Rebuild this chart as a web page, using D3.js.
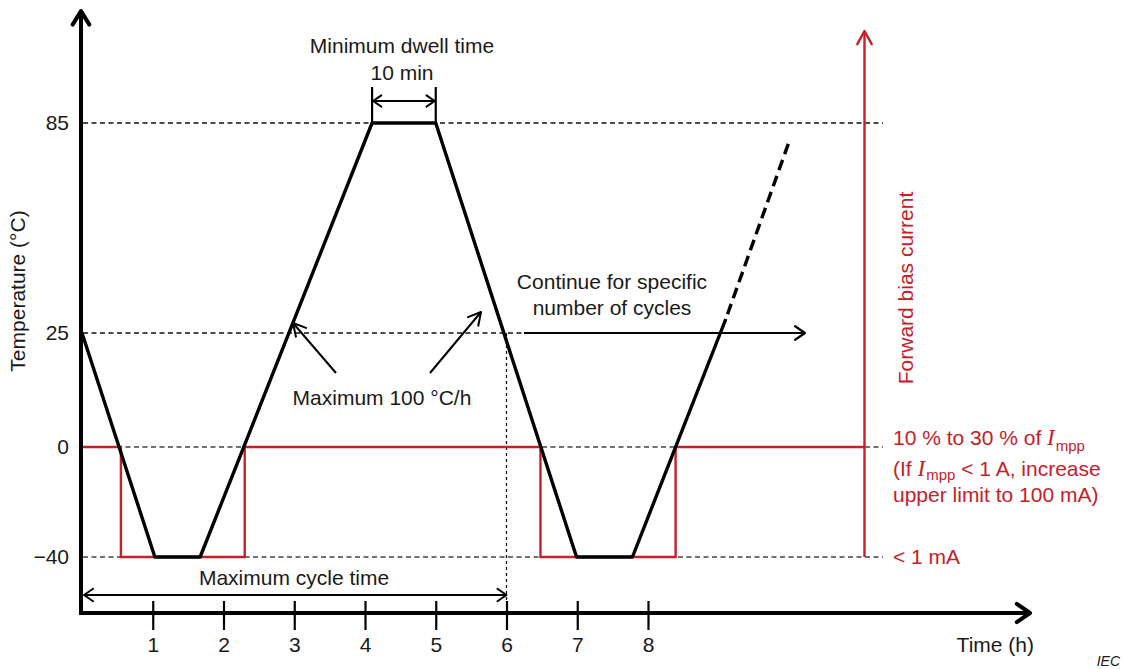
<!DOCTYPE html>
<html><head><meta charset="utf-8">
<script src="https://cdn.jsdelivr.net/npm/d3@7"></script>
<style>
html,body{margin:0;padding:0;background:#fff;}
svg{display:block;font-family:"Liberation Sans",Arial,sans-serif;}
</style></head>
<body>
<svg id="c" width="1126" height="669"></svg>
<script>
// ---- data ----
const tempTimes = [0, 1.03, 1.67, 4.1, 5.0, 6.99, 7.78, 9.1];
const tempValues = [25, -40, -40, 85, 85, -40, -40, 29];
const contTimes = [9.1, 10.0];
const contValues = [29, 80];
const biasTimes = [0, 0.55, 0.55, 2.3, 2.3, 6.48, 6.48, 8.39, 8.39, 11.06];
const biasLevels = [0, 0, -40, -40, 0, 0, -40, -40, 0, 0];
const xTicks = [1, 2, 3, 4, 5, 6, 7, 8];
const yTicks = [-40, 0, 25, 85];
const yTickLabels = ["\u221240", "0", "25", "85"];

const RED = "#c8202a";
const INK = "#1a1a1a";
const FS = 21;
const svg = d3.select("#c");

const x = d3.scaleLinear().domain([0, 8]).range([82, 648]);
const y = d3.scaleLinear().domain([-40, 0, 25, 85]).range([557, 447, 333, 123]);

const X0 = 81, XAXIS_Y = 613;

function chevron(tx, ty, angle, len, spread, color, w) {
  const a1 = angle + Math.PI - spread, a2 = angle + Math.PI + spread;
  svg.append("path")
    .attr("d", `M${tx + len*Math.cos(a1)},${ty + len*Math.sin(a1)}L${tx},${ty}L${tx + len*Math.cos(a2)},${ty + len*Math.sin(a2)}`)
    .attr("fill", "none").attr("stroke", color).attr("stroke-width", w)
    .attr("stroke-linecap", "round").attr("stroke-linejoin", "round");
}
function line(x1, y1, x2, y2, color, w, dash) {
  const l = svg.append("line").attr("x1", x1).attr("y1", y1).attr("x2", x2).attr("y2", y2)
    .attr("stroke", color).attr("stroke-width", w);
  if (dash) l.attr("stroke-dasharray", dash);
  return l;
}

// ---- dashed reference lines ----
line(X0 + 2, y(85), 883, y(85), "#111", 1.4, "5,3.5");
line(X0 + 2, y(25), 522, y(25), "#111", 1.4, "5,3.5");
line(X0 + 2, y(0), 883, y(0), "#444", 1.4, "5,3.5");
line(X0 + 2, y(-40), 883, y(-40), "#444", 1.4, "5,3.5");
line(x(6), y(25), x(6), 600, "#111", 1.3, "3,3");

// ---- bias current (red) ----
const lineGen = d3.line().x(d => x(d[0])).y(d => y(d[1]));
svg.append("path")
  .attr("d", lineGen(biasTimes.map((t, i) => [t, biasLevels[i]])))
  .attr("fill", "none").attr("stroke", RED).attr("stroke-width", 2.4);

// red vertical axis
line(x(11.06), y(-40), x(11.06), 31, RED, 2.4);
chevron(x(11.06), 31, -Math.PI/2, 15, 0.5, RED, 2.4);

// ---- temperature ----
svg.append("path")
  .attr("d", lineGen(tempTimes.map((t, i) => [t, tempValues[i]])))
  .attr("fill", "none").attr("stroke", "#000").attr("stroke-width", 3.4)
  .attr("stroke-linejoin", "round");
svg.append("path")
  .attr("d", lineGen(contTimes.map((t, i) => [t, contValues[i]])))
  .attr("fill", "none").attr("stroke", "#000").attr("stroke-width", 3.4)
  .attr("stroke-dasharray", "11,6").attr("stroke-dashoffset", -5);

// ---- axes ----
line(X0, XAXIS_Y + 2, X0, 12, "#000", 4);
chevron(X0, 11, -Math.PI/2, 16, 0.55, "#000", 4);
line(X0 - 2, XAXIS_Y, 1029, XAXIS_Y, "#000", 4);
chevron(1030, XAXIS_Y, 0, 16, 0.6, "#000", 4);

const xAxis = d3.axisBottom(x).tickValues(xTicks).tickSize(29).tickPadding(7).tickFormat(d3.format("d"));
const gx = svg.append("g").attr("transform", `translate(0,601)`).call(xAxis);
gx.select(".domain").remove();
gx.selectAll(".tick line").attr("stroke", "#000").attr("stroke-width", 2.2);
gx.selectAll(".tick text").attr("font-size", FS).attr("fill", INK)
  .attr("font-family", "Liberation Sans, Arial, sans-serif");

const yAxis = d3.axisLeft(y).tickValues(yTicks).tickSize(0).tickPadding(12)
  .tickFormat(d => yTickLabels[yTicks.indexOf(d)]);
const gy = svg.append("g").attr("transform", `translate(${X0},0)`).call(yAxis);
gy.select(".domain").remove();
gy.selectAll(".tick text").attr("font-size", FS).attr("fill", INK)
  .attr("font-family", "Liberation Sans, Arial, sans-serif");

// axis titles
svg.append("text").attr("transform", "translate(25,291) rotate(-90)").attr("text-anchor", "middle")
  .attr("font-size", FS).attr("fill", INK).text("Temperature (\u00B0C)");
svg.append("text").attr("x", 1034).attr("y", 652).attr("text-anchor", "end")
  .attr("font-size", FS).attr("fill", INK).text("Time (h)");
svg.append("text").attr("transform", "translate(913,288) rotate(-90)").attr("text-anchor", "middle")
  .attr("font-size", FS).attr("fill", RED).text("Forward bias current");
svg.append("text").attr("x", 1120).attr("y", 666).attr("text-anchor", "end")
  .attr("font-size", 14).attr("font-style", "italic").attr("fill", INK).text("IEC");

// ---- minimum dwell annotation ----
const dx1 = x(4.1), dx2 = x(5.0);
line(dx1, 87, dx1, y(85), "#000", 2.2);
line(dx2, 87, dx2, y(85), "#000", 2.2);
line(dx1 + 1, 101, dx2 - 1, 101, "#000", 2);
chevron(dx1 + 1, 101, Math.PI, 10, 0.6, "#000", 2);
chevron(dx2 - 1, 101, 0, 10, 0.6, "#000", 2);
svg.append("text").attr("x", 402).attr("y", 53).attr("text-anchor", "middle")
  .attr("font-size", FS).attr("fill", INK).text("Minimum dwell time");
svg.append("text").attr("x", 402).attr("y", 80).attr("text-anchor", "middle")
  .attr("font-size", FS).attr("fill", INK).text("10 min");

// ---- max rate annotation ----
line(336, 373, 293, 323, "#000", 2);
chevron(293, 323, Math.atan2(323 - 373, 293 - 336), 14, 0.5, "#000", 2);
line(430, 373, 481, 312, "#000", 2);
chevron(481, 312, Math.atan2(312 - 373, 481 - 430), 14, 0.5, "#000", 2);
svg.append("text").attr("x", 382).attr("y", 405).attr("text-anchor", "middle")
  .attr("font-size", FS).attr("fill", INK).text("Maximum 100 \u00B0C/h");

// ---- continue annotation ----
line(524, y(25), 804, y(25), "#000", 2.2);
chevron(805, y(25), 0, 12, 0.6, "#000", 2.2);
svg.append("text").attr("x", 612).attr("y", 289).attr("text-anchor", "middle")
  .attr("font-size", FS).attr("fill", INK).text("Continue for specific");
svg.append("text").attr("x", 612).attr("y", 315).attr("text-anchor", "middle")
  .attr("font-size", FS).attr("fill", INK).text("number of cycles");

// ---- max cycle time ----
line(x(0) + 2, 595, x(6), 595, "#000", 2);
chevron(x(0) + 2, 595, Math.PI, 11, 0.6, "#000", 2);
chevron(x(6), 595, 0, 11, 0.6, "#000", 2);
svg.append("text").attr("x", 294).attr("y", 585).attr("text-anchor", "middle")
  .attr("font-size", FS).attr("fill", INK).text("Maximum cycle time");

// ---- red labels ----
function impp(t, sub) {
  t.append("tspan").attr("font-family", "Liberation Serif, Times New Roman, serif")
    .attr("font-style", "italic").attr("font-size", 23).text("I");
  t.append("tspan").attr("font-size", 15).attr("dx", 1).attr("dy", sub).text("mpp");
}
let t1 = svg.append("text").attr("x", 893).attr("y", 445).attr("font-size", FS).attr("fill", RED);
t1.append("tspan").text("10 % to 30 % of ");
impp(t1, 6);
let t2 = svg.append("text").attr("x", 893).attr("y", 476).attr("font-size", FS).attr("fill", RED);
t2.append("tspan").text("(If ");
impp(t2, 4);
t2.append("tspan").attr("dy", -4).text(" < 1 A, increase");
svg.append("text").attr("x", 893).attr("y", 502).attr("font-size", FS).attr("fill", RED)
  .text("upper limit to 100 mA)");
svg.append("text").attr("x", 893).attr("y", 564).attr("font-size", FS).attr("fill", RED)
  .text("< 1 mA");
</script>
</body></html>
